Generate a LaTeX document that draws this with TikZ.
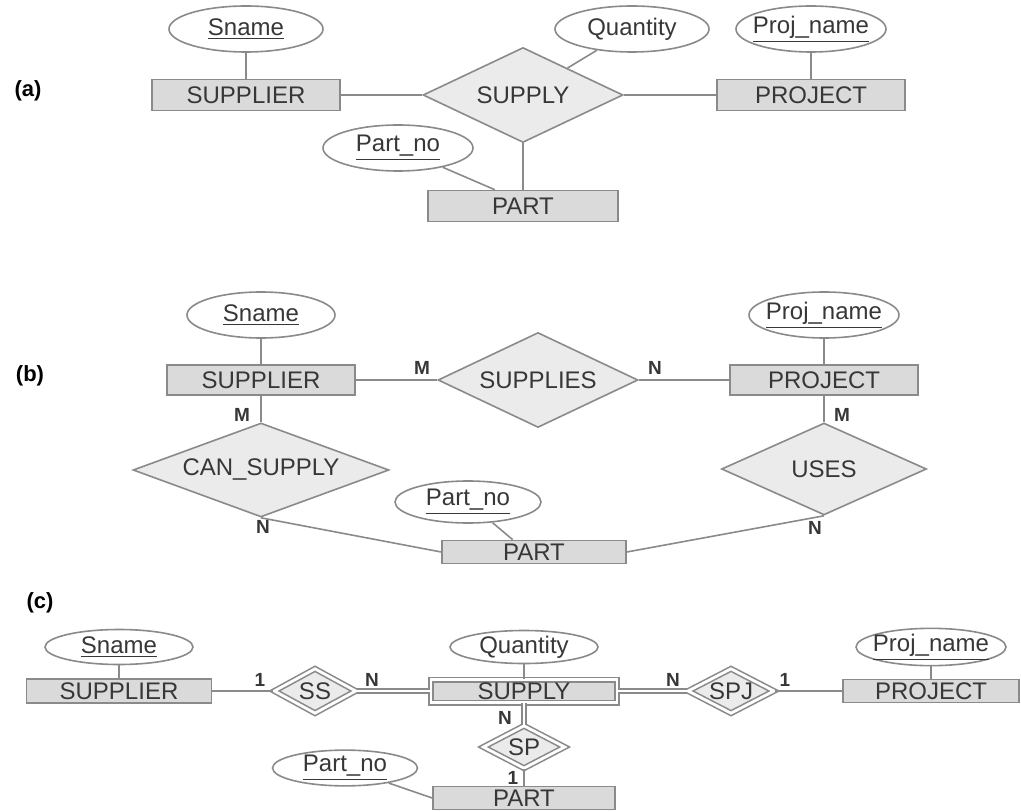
\documentclass[tikz,border=0pt]{standalone}
\usepackage{fontspec}
\setmainfont{Liberation Sans}
\usetikzlibrary{shapes.geometric}
\definecolor{linegray}{RGB}{138,138,138}
\definecolor{boxgray}{RGB}{218,218,218}
\colorlet{boxgray-lighter}{boxgray!55}
\definecolor{textgray}{RGB}{55,55,55}

\begin{document}
\begin{tikzpicture}[x=0.5pt, y=-0.5pt, line width=0.8pt, linegray,
    font=\fontsize{12}{14}\selectfont,
    ent/.style={draw=linegray, fill=boxgray, text=textgray, inner sep=0pt,
        minimum width=94pt, minimum height=15.5pt},
    rel/.style={diamond, aspect=2.5, draw=linegray, fill=boxgray-lighter,
        text=textgray, inner sep=0pt},
    attr/.style={ellipse, draw=linegray, fill=white, text=textgray,
        inner xsep=-4pt, inner ysep=0pt, minimum width=75pt, minimum height=23pt},
    card/.style={text=textgray, inner sep=0pt, font=\bfseries\fontsize{9.5}{10}\selectfont},
    part/.style={text=black, inner sep=0pt, font=\bfseries\fontsize{11}{12}\selectfont},
    weak/.style={double=white, double distance=1.4pt}]

    \useasboundingbox (0,0) rectangle (1021,812);

    % (a)
    \node[part] (la) at (28,91) {(a)};

    \node[ent] (a-sup) at (246,95) {SUPPLIER};
    \node[rel, minimum width=100pt, minimum height=47.5pt] (a-supply) at (523,95) {SUPPLY};
    \node[ent] (a-proj) at (811,95) {PROJECT};
    \node[ent, minimum width=95pt] (a-part) at (523,206) {PART};

    \node[attr, minimum width=77pt] (a-sname) at (246,29) {\underline{Sname}};
    \node[attr, minimum width=77pt] (a-qty) at (632,29) {Quantity};
    \node[attr] (a-pname) at (811,29) {\underline{Proj\_name}};
    \node[attr] (a-pno) at (398,148) {\underline{Part\_no}};

    \draw (a-sname) -- (a-sup);
    \draw (a-sup) -- (a-supply);
    \draw (a-supply) -- (a-proj);
    \draw (a-qty) -- (a-supply);
    \draw (a-pname) -- (a-proj);
    \draw (a-supply) -- (a-part);
    \draw (a-pno) -- (a-part.150);

    % (b)
    \node[part] (lb) at (30,376) {(b)};

    \node[ent, minimum height=15pt] (b-sup) at (261,380) {SUPPLIER};
    \node[rel, minimum width=100pt, minimum height=47.5pt] (b-supplies) at (538,380) {SUPPLIES};
    \node[ent, minimum height=15pt] (b-proj) at (824,380) {PROJECT};
    \node[rel, minimum width=128pt, minimum height=47pt] (b-cans) at (261,470) {CAN\_SUPPLY};
    \node[rel, minimum width=102.5pt, minimum height=46pt] (b-uses) at (824,469) {USES};
    \node[ent, minimum width=92pt, minimum height=11.5pt] (b-part) at (534,552) {PART};

    \node[attr, minimum width=74pt] (b-sname) at (261,315) {\underline{Sname}};
    \node[attr] (b-pname) at (824,315) {\underline{Proj\_name}};
    \node[attr, minimum width=73pt, minimum height=21pt] (b-pno) at (468,502) {\underline{Part\_no}};

    \draw (b-sname) -- (b-sup);
    \draw (b-pname) -- (b-proj);
    \draw (b-sup) -- (b-supplies);
    \draw (b-supplies) -- (b-proj);
    \draw (b-sup) -- (b-cans);
    \draw (b-proj) -- (b-uses);
    \draw (b-cans.south) -- (b-part.west);
    \draw (b-part.east) -- (b-uses.south);
    \draw (b-pno) -- (b-part.150);

    \node[card] (b-m1) at (422,368) {M};
    \node[card] (b-n1) at (655,368) {N};
    \node[card] (b-m2) at (242,415) {M};
    \node[card] (b-n2) at (263,527) {N};
    \node[card] (b-m3) at (842,415) {M};
    \node[card] (b-n3) at (815,528) {N};

    % (c)
    \node[part] (lc) at (40,603) {(c)};

    \node[ent, minimum width=92.5pt, minimum height=12pt] (c-sup) at (119,691) {SUPPLIER};
    \node[rel, weak, minimum width=41pt, minimum height=22.5pt] (c-ss) at (315,691) {SS};
    \node[ent, weak, minimum width=93pt, minimum height=11.5pt] (c-supply) at (524,691) {SUPPLY};
    \node[rel, weak, minimum width=41pt, minimum height=22.5pt] (c-spj) at (731,691) {SPJ};
    \node[ent, minimum width=88pt, minimum height=11.5pt] (c-proj) at (931,691) {PROJECT};
    \node[rel, weak, minimum width=41pt, minimum height=21.5pt] (c-sp) at (524,747) {SP};
    \node[ent, minimum width=91pt, minimum height=11.5pt] (c-part) at (524,798) {PART};

    \node[attr, minimum width=74pt, minimum height=17.5pt] (c-sname) at (119,647) {\underline{Sname}};
    \node[attr, minimum width=74pt, minimum height=16.5pt] (c-qty) at (524,647) {Quantity};
    \node[attr, minimum width=75pt, minimum height=17.5pt] (c-pname) at (931,647) {\underline{Proj\_name}};
    \node[attr, minimum width=72.5pt, minimum height=15pt] (c-pno) at (345,768) {\underline{Part\_no}};

    \draw (c-sname) -- (c-sup);
    \draw (c-qty) -- (c-supply);
    \draw (c-pname) -- (c-proj);
    \draw (c-pno) -- (c-part.west);

    \draw (c-sup) -- (c-ss);
    \draw[weak] (c-ss) -- (c-supply);
    \draw[weak] (c-supply) -- (c-spj);
    \draw (c-spj) -- (c-proj);
    \draw[weak] (c-supply) -- (c-sp);
    \draw (c-sp) -- (c-part);

    \node[card] (c-one1) at (260,680) {1};
    \node[card] (c-n1) at (372,680) {N};
    \node[card] (c-n2) at (673,680) {N};
    \node[card] (c-one2) at (785,680) {1};
    \node[card] (c-n3) at (505,718) {N};
    \node[card] (c-one3) at (513,778) {1};

\end{tikzpicture}
\end{document}
